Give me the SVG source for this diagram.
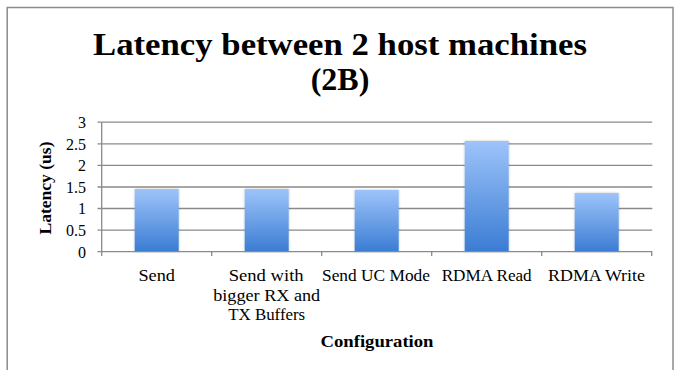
<svg xmlns="http://www.w3.org/2000/svg" width="676" height="370" viewBox="0 0 676 370">
  <defs>
    <linearGradient id="barGrad" x1="0" y1="0" x2="0" y2="1">
      <stop offset="0" stop-color="#9DC4FA"/>
      <stop offset="1" stop-color="#3B7CD3"/>
    </linearGradient>
    <filter id="shadow" x="-20%" y="-10%" width="140%" height="120%">
      <feDropShadow dx="0" dy="0" stdDeviation="1.2" flood-color="#000" flood-opacity="0.25"/>
    </filter>
    <style>
      .frame { fill: none; stroke: #8c8c8c; stroke-width: 1.5; }
      .grid { stroke: #8a8a8a; stroke-width: 1.3; }
      .axis { stroke: #8a8a8a; stroke-width: 1.3; fill: none; }
      .bar { fill: url(#barGrad); filter: url(#shadow); }
      .title { font-family: "Liberation Serif", "DejaVu Serif", serif; font-weight: bold; font-size: 32px; fill: #000; text-anchor: middle; }
      .ytick { font-family: "Liberation Serif", "DejaVu Serif", serif; font-size: 16px; fill: #000; text-anchor: end; }
      .cat { font-family: "Liberation Serif", "DejaVu Serif", serif; font-size: 17px; fill: #000; text-anchor: middle; }
      .axtitle { font-family: "Liberation Serif", "DejaVu Serif", serif; font-weight: bold; font-size: 17px; fill: #000; text-anchor: middle; }
    </style>
  </defs>
  <rect x="0" y="0" width="676" height="370" fill="#fff"/>
  <rect class="frame" x="7.2" y="7.5" width="665.8" height="370"/>

  <g id="title">
    <text class="title" x="340" y="55" textLength="494" lengthAdjust="spacingAndGlyphs">Latency between 2 host machines</text>
    <text class="title" x="340" y="90">(2B)</text>
  </g>

  <g id="gridlines">
    <line class="grid" x1="101.7" y1="230.1" x2="652.3" y2="230.1"/>
    <line class="grid" x1="101.7" y1="208.5" x2="652.3" y2="208.5"/>
    <line class="grid" x1="101.7" y1="187.0" x2="652.3" y2="187.0"/>
    <line class="grid" x1="101.7" y1="165.4" x2="652.3" y2="165.4"/>
    <line class="grid" x1="101.7" y1="143.8" x2="652.3" y2="143.8"/>
    <line class="grid" x1="101.7" y1="122.2" x2="652.3" y2="122.2"/>
  </g>

  <g id="y-axis">
    <line class="axis" x1="101.7" y1="122.2" x2="101.7" y2="251.7"/>
    <path class="axis" d="M97.5 251.7H101.7M97.5 230.1H101.7M97.5 208.5H101.7M97.5 187.0H101.7M97.5 165.4H101.7M97.5 143.8H101.7M97.5 122.2H101.7"/>
    <text class="ytick" x="86" y="257.5">0</text>
    <text class="ytick" x="86" y="235.9">0.5</text>
    <text class="ytick" x="86" y="214.3">1</text>
    <text class="ytick" x="86" y="192.8">1.5</text>
    <text class="ytick" x="86" y="171.2">2</text>
    <text class="ytick" x="86" y="149.6">2.5</text>
    <text class="ytick" x="86" y="128">3</text>
    <text class="axtitle" transform="translate(51,188) rotate(-90)" x="0" y="0" textLength="93" lengthAdjust="spacingAndGlyphs">Latency (us)</text>
  </g>

  <g id="bars">
    <rect id="bar-send" class="bar" x="134.7" y="189" width="44" height="62.7"/>
    <rect id="bar-send-bigger" class="bar" x="244.7" y="189" width="44" height="62.7"/>
    <rect id="bar-send-uc" class="bar" x="354.7" y="190" width="44" height="61.7"/>
    <rect id="bar-rdma-read" class="bar" x="464.7" y="141" width="44" height="110.7"/>
    <rect id="bar-rdma-write" class="bar" x="574.7" y="193" width="44" height="58.7"/>
  </g>

  <g id="x-axis">
    <line class="axis" x1="101.7" y1="251.7" x2="652.3" y2="251.7"/>
    <path class="axis" d="M101.7 251.7V256M211.7 251.7V256M321.7 251.7V256M431.7 251.7V256M541.7 251.7V256M651.7 251.7V256"/>
    <text class="cat" x="156.7" y="281" textLength="36.6" lengthAdjust="spacingAndGlyphs">Send</text>
    <text class="cat" x="266.2" y="281" textLength="75" lengthAdjust="spacingAndGlyphs">Send with</text>
    <text class="cat" x="266.7" y="300.5" textLength="107" lengthAdjust="spacingAndGlyphs">bigger RX and</text>
    <text class="cat" x="266.7" y="320" textLength="77" lengthAdjust="spacingAndGlyphs">TX Buffers</text>
    <text class="cat" x="376" y="281" textLength="108" lengthAdjust="spacingAndGlyphs">Send UC Mode</text>
    <text class="cat" x="486.7" y="281" textLength="90" lengthAdjust="spacingAndGlyphs">RDMA Read</text>
    <text class="cat" x="596.5" y="281" textLength="97" lengthAdjust="spacingAndGlyphs">RDMA Write</text>
    <text class="axtitle" x="377" y="347" textLength="113" lengthAdjust="spacingAndGlyphs">Configuration</text>
  </g>
</svg>
